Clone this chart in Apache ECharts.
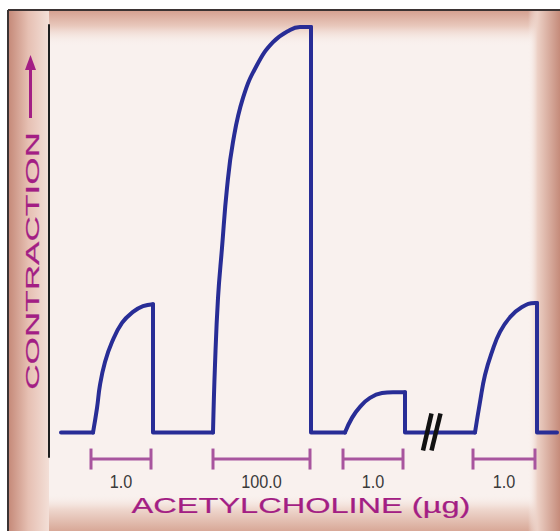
<!DOCTYPE html>
<html>
<head>
<meta charset="utf-8">
<script src="https://cdn.jsdelivr.net/npm/echarts@6/dist/echarts.min.js"></script>
<style>
html,body{margin:0;padding:0;background:#fff;}
#chart{width:560px;height:531px;}
</style>
</head>
<body>
<div id="chart"></div>
<script>
// ---- data ----
// time (arbitrary units) and contraction (% of the maximal response)
var traceStart = 2.4;
var traceEnd = 101.6;
var response1Time = [8.8, 9.6, 10.2, 11.2, 12.6, 14.6, 16.8, 18.8, 20.8];
var response1Contraction = [0, 6.0, 11.7, 17.3, 22.2, 26.9, 29.6, 31.0, 31.5];
var response2Time = [32.8, 33.2, 33.8, 34.6, 35.6, 36.8, 38.8, 41.6, 44.8, 48.2, 50.2, 52.4];
var response2Contraction = [0, 16.6, 33.0, 45.3, 60.0, 71.3, 82.1, 90.2, 95.8, 98.8, 99.5, 99.5];
var response3Time = [59.2, 60.6, 62.2, 64.2, 66.6, 68.8, 71.2];
var response3Contraction = [0, 3.6, 6.3, 8.5, 9.7, 9.9, 9.9];
var response4Time = [85.2, 86.2, 87.2, 88.6, 90.2, 92.2, 94.6, 97.2, 97.6];
var response4Contraction = [0, 7.5, 14.1, 19.8, 24.7, 28.3, 30.8, 31.8, 31.8];
var doseStart = [8.4, 32.8, 58.8, 84.8];
var doseEnd = [20.4, 52.2, 70.8, 97.2];
var doseLabels = ['1.0', '100.0', '1.0', '1.0'];
var breakTime = [76.6];
var breakLevel = [0];
var xAxisTitle = 'ACETYLCHOLINE (\u00b5g)';
var yAxisTitle = 'CONTRACTION';

// ---- build ----
var responses = [
  [response1Time, response1Contraction],
  [response2Time, response2Contraction],
  [response3Time, response3Contraction],
  [response4Time, response4Contraction]
];
// straight parts: baselines between responses and the vertical wash-out drops
var washData = [[traceStart, 0]];
responses.forEach(function (r) {
  var t = r[0], c = r[1], n = t.length - 1;
  washData.push([t[0], c[0]]);
  washData.push('-');
  washData.push([t[n], c[n]]);
  washData.push([t[n], 0]);
});
washData.push([traceEnd, 0]);

var MAGENTA = '#a31e84';
var BRACKET = '#a8559e';
var BLUE = '#282d96';
var BRACKET_LEVEL = -6.5;

var series = [{
  type: 'line', data: washData, symbol: 'none', z: 3, connectNulls: false,
  lineStyle: {color: BLUE, width: 4, join: 'round', cap: 'round'}
}];
responses.forEach(function (r) {
  series.push({
    type: 'line', symbol: 'none', z: 3, smooth: 0.45,
    data: r[0].map(function (t, i) { return [t, r[1][i]]; }),
    lineStyle: {color: BLUE, width: 4, join: 'round', cap: 'round'}
  });
});
series.push({
  type: 'custom', data: doseStart.map(function (s, i) { return [s, doseEnd[i]]; }), clip: false, z: 4,
  renderItem: function (params, api) {
    var p1 = api.coord([api.value(0), BRACKET_LEVEL]);
    var p2 = api.coord([api.value(1), BRACKET_LEVEL]);
    var st = {stroke: BRACKET, lineWidth: 3};
    return {type: 'group', children: [
      {type: 'line', shape: {x1: p1[0], y1: p1[1], x2: p2[0], y2: p2[1]}, style: st},
      {type: 'line', shape: {x1: p1[0], y1: p1[1] - 10.5, x2: p1[0], y2: p1[1] + 10.5}, style: st},
      {type: 'line', shape: {x1: p2[0], y1: p2[1] - 10.5, x2: p2[0], y2: p2[1] + 10.5}, style: st},
      {type: 'text', x: (p1[0] + p2[0]) / 2, y: p1[1] + 23, scaleX: 0.9,
        style: {text: doseLabels[params.dataIndex], fill: '#3a3a3a', font: '18px "Liberation Sans", Arial, sans-serif', align: 'center', verticalAlign: 'middle'}}
    ]};
  }
});
series.push({
  type: 'custom', data: breakTime.map(function (t, i) { return [t, breakLevel[i]]; }), clip: false, z: 6,
  renderItem: function (params, api) {
    var c = api.coord([api.value(0), api.value(1)]);
    var st = {stroke: '#111111', lineWidth: 4.5};
    return {type: 'group', children: [
      {type: 'line', shape: {x1: c[0] - 9, y1: c[1] + 18, x2: c[0] - 0.5, y2: c[1] - 19}, style: st},
      {type: 'line', shape: {x1: c[0] - 0.5, y1: c[1] + 18, x2: c[0] + 8.5, y2: c[1] - 19}, style: st}
    ]};
  }
});

var chart = echarts.init(document.getElementById('chart'), null, {renderer: 'svg'});

function vGrad(stops) { return new echarts.graphic.LinearGradient(0, 0, 0, 1, stops); }
function hGrad(stops) { return new echarts.graphic.LinearGradient(0, 0, 1, 0, stops); }

chart.setOption({
  animation: false,
  backgroundColor: '#ffffff',
  grid: {left: 49, right: 1, top: 25, bottom: 74, containLabel: false},
  xAxis: {type: 'value', min: 0, max: 102, show: false},
  yAxis: {
    type: 'value', min: -6, max: 100,
    axisLine: {show: true, lineStyle: {color: '#1e1e1e', width: 2}},
    axisTick: {show: false}, axisLabel: {show: false}, splitLine: {show: false}
  },
  graphic: [
    {type: 'rect', z: -10, silent: true, shape: {x: 8, y: 10, width: 552, height: 521}, style: {fill: '#f9f1ee'}},
    {type: 'rect', z: -9, silent: true, shape: {x: 8, y: 10, width: 552, height: 36},
      style: {fill: vGrad([{offset: 0, color: '#d49f8f'}, {offset: 0.45, color: '#e9c9bd'}, {offset: 1, color: 'rgba(249,241,238,0)'}])}},
    {type: 'rect', z: -9, silent: true, shape: {x: 8, y: 494, width: 552, height: 37},
      style: {fill: vGrad([{offset: 0, color: 'rgba(249,241,238,0)'}, {offset: 0.4, color: '#efd8cf'}, {offset: 1, color: '#d8a897'}])}},
    {type: 'rect', z: -9, silent: true, shape: {x: 8, y: 10, width: 41, height: 521},
      style: {fill: hGrad([{offset: 0, color: '#c48877'}, {offset: 0.5, color: '#e6c0b3'}, {offset: 1, color: '#f3dfd7'}])}},
    {type: 'rect', z: -9, silent: true, shape: {x: 528, y: 10, width: 32, height: 521},
      style: {fill: hGrad([{offset: 0, color: 'rgba(249,241,238,0)'}, {offset: 0.3, color: '#ecd0c5'}, {offset: 1, color: '#c58b7a'}])}},
    {type: 'line', z: -8, silent: true, shape: {x1: 8, y1: 10, x2: 560, y2: 10}, style: {stroke: '#3b3333', lineWidth: 2}},
    {type: 'line', z: -8, silent: true, shape: {x1: 8, y1: 10, x2: 8, y2: 531}, style: {stroke: '#3b3333', lineWidth: 2}},
    {type: 'text', z: 5, x: 32, y: 261, rotation: Math.PI / 2, scaleX: 1.85,
      style: {text: yAxisTitle, fill: MAGENTA, stroke: MAGENTA, lineWidth: 0.2, font: '19px "Liberation Sans", Arial, sans-serif', align: 'center', verticalAlign: 'middle'}},
    {type: 'line', z: 5, shape: {x1: 30.5, y1: 118, x2: 30.5, y2: 66}, style: {stroke: MAGENTA, lineWidth: 3}},
    {type: 'polygon', z: 5, shape: {points: [[30.5, 55], [25, 70], [36, 70]]}, style: {fill: MAGENTA}},
    {type: 'text', z: 5, x: 301, y: 505, scaleX: 1.48,
      style: {text: xAxisTitle, fill: MAGENTA, stroke: MAGENTA, lineWidth: 0.2, font: '22px "Liberation Sans", Arial, sans-serif', align: 'center', verticalAlign: 'middle'}}
  ],
  series: series
});
</script>
</body>
</html>
